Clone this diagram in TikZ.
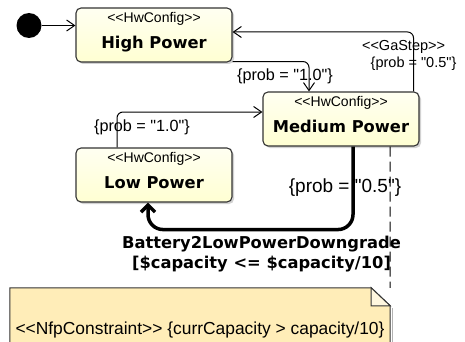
\documentclass[tikz,border=0pt]{standalone}
\usepackage{fontspec}
\setmainfont{Liberation Sans}[Ligatures=TeXOff]
\newfontfamily\namefont{DejaVu Sans}[Ligatures=TeXOff]
\usetikzlibrary{arrows.meta, shadows}

\definecolor{boxfill}{RGB}{255,255,210}
\definecolor{notefill}{RGB}{255,237,184}

\begin{document}
\begin{tikzpicture}[x=1pt, y=-1pt,
    hwbox/.style={draw=black!80, line width=1.1pt, rounded corners=5pt, top color=boxfill!30!white, bottom color=boxfill,
        minimum width=156pt, minimum height=54pt, inner sep=0pt,
        text height=27pt, text depth=0pt, font=\namefont\bfseries\fontsize{16.3}{19}\selectfont,
        drop shadow={shadow xshift=2pt, shadow yshift=-2pt, fill=black!35, draw=none}},
    stereo/.style={font=\fontsize{14}{16}\selectfont},
    problabel/.style={font=\fontsize{16.2}{19}\selectfont},
    trans/.style={-{Straight Barb[length=8pt, width=11pt]}, line width=1pt, rounded corners=6pt}]
    \clip (0,0) rectangle (465,342);
    \fill[white] (0,0) rectangle (465,342);

    % Nodes
    \node[circle, fill=black, minimum size=25pt, inner sep=0pt] (init) at (29,25.5) {};
    \node[hwbox, label={[stereo, anchor=north, yshift=-1pt]north:{<<HwConfig>>}}] (high) at (154,35) {High Power};
    \node[hwbox, label={[stereo, anchor=north, yshift=-1pt]north:{<<HwConfig>>}}] (medium) at (341,119) {Medium Power};
    \node[hwbox, label={[stereo, anchor=north, yshift=-1pt]north:{<<HwConfig>>}}] (low) at (154,175) {Low Power};
    \node[minimum width=380pt, minimum height=84pt, inner sep=0pt] (note) at (200,330) {};

    % Note outline
    \fill[black!30] ([xshift=2pt, yshift=-20pt]note.north east) rectangle ([xshift=2.5pt]note.south east);
    \filldraw[draw=black!80, line width=1pt, fill=notefill] (note.south west) -- (note.north west) -- ([xshift=-19pt]note.north east)
        -- ([yshift=-18pt]note.north east) -- (note.south east) -- cycle;
    \filldraw[draw=black!80, line width=1pt, fill=notefill!45!white] ([xshift=-19pt]note.north east)
        |- ([yshift=-18pt]note.north east) -- cycle;
    \node[font=\fontsize{17.4}{20}\selectfont] (notetext) at (note.center) {<<NfpConstraint>> \{currCapacity > capacity/10\}};

    % Connections
    \draw[trans] (init) -- ([yshift=9.5pt]high.west);
    \draw[trans] ([yshift=1pt]high.south east) -| node[pos=0.5, problabel, xshift=-24pt, yshift=-15pt] {\{prob = "1.0"\}}
        ([xshift=-32pt]medium.north);
    \draw[trans] ([xshift=-6pt]medium.north east) |-
        node[pos=0.25, font=\fontsize{14.5}{17}\selectfont, xshift=-10pt, yshift=15pt] {<<GaStep>>}
        node[pos=0.25, font=\fontsize{14.5}{17}\selectfont, yshift=-2pt] {\{prob = "0.5"\}}
        ([yshift=3pt]high.east);
    \draw[trans] ([xshift=-37pt]low.north) |- node[pos=0.5, problabel, xshift=25pt, yshift=-15pt] {\{prob = "1.0"\}}
        ([yshift=7pt]medium.west);
    \draw[line width=1pt, dash pattern=on 10pt off 5pt] ([xshift=49pt]medium.south) -- (note.north east);
    \draw[line width=3.5pt, -{Straight Barb[length=7pt, width=14pt]}, rounded corners=15pt]
        ([xshift=12pt]medium.south) -- node[pos=0.5, xshift=-8pt, font=\fontsize{19}{22}\selectfont] {\{prob = "0.5"\}} ++(0,83)
        -| node[pos=0.25, xshift=11pt, yshift=-25pt, align=center, font=\namefont\bfseries\fontsize{16.3}{20}\selectfont]
        {Battery2LowPowerDowngrade\\{[}\$capacity <= \$capacity/10]} ([xshift=-6pt]low.south);
\end{tikzpicture}
\end{document}
